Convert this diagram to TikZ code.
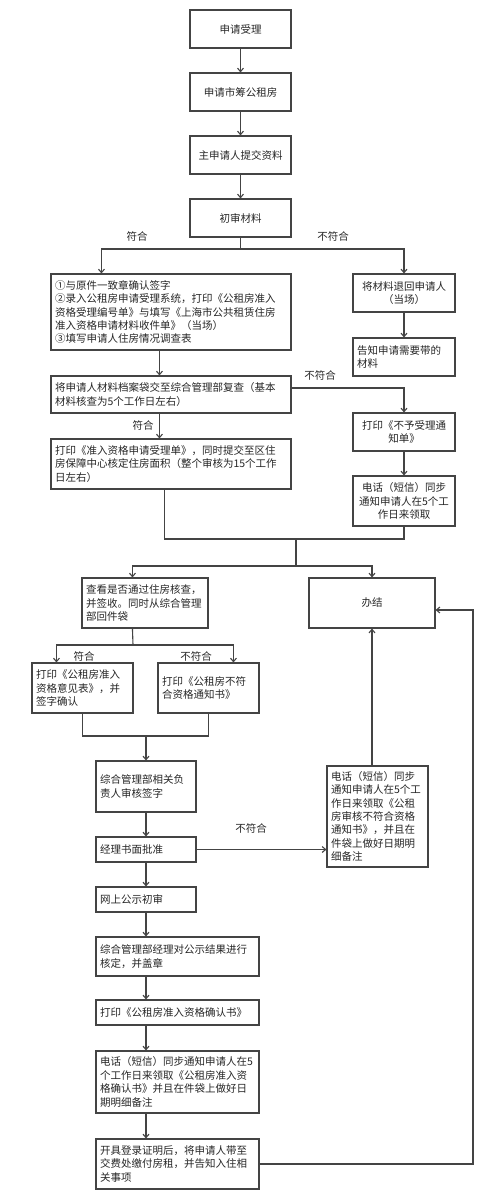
\documentclass[tikz,border=0pt]{standalone}
\usepackage{fontspec}
\setmainfont{Noto Sans CJK SC}
\usetikzlibrary{arrows.meta}
\definecolor{lncol}{HTML}{444444}
\definecolor{txcol}{HTML}{262626}
\tikzset{
  box/.style={draw=lncol, line width=1.1pt, inner xsep=4pt, inner ysep=0pt, text=txcol, font=\fontsize{10.5pt}{13.4pt}\selectfont},
  lbox/.style={box, align=left},
  cbox/.style={box, align=center},
  arr/.style={draw=lncol, line width=1.1pt, -{Straight Barb[length=3.5pt,width=6pt]}},
  plain/.style={draw=lncol, line width=1.1pt},
  lab/.style={text=txcol, inner sep=0pt, font=\fontsize{10.5pt}{13.4pt}\selectfont}
}
\begin{document}
\begin{tikzpicture}[x=1pt,y=-1pt]
\fill[white] (0,0) rectangle (500,1200);
\useasboundingbox (0,0) rectangle (500,1200);
% top column
\node[cbox, minimum width=101pt, minimum height=38pt] (n1) at (240.5,29) {申请受理};
\node[cbox, minimum width=101pt, minimum height=38pt] (n2) at (240.5,92) {申请市筹公租房};
\node[cbox, minimum width=101pt, minimum height=38pt] (n3) at (240.5,155) {主申请人提交资料};
\node[cbox, minimum width=101pt, minimum height=38pt] (n4) at (240.5,218) {初审材料};
% second level
\node[lbox, minimum width=240pt, minimum height=76pt, text width=232pt] (n5) at (171,312) {①与原件一致章确认签字\\②录入公租房申请受理系统，打印《公租房准入\\资格受理编号单》与填写《上海市公共租赁住房\\准入资格申请材料收件单》（当场）\\③填写申请人住房情况调查表};
\node[cbox, minimum width=102pt, minimum height=38pt] (n6) at (404,293) {将材料退回申请人\\（当场）};
\node[lbox, minimum width=102pt, minimum height=38pt, text width=94pt] (n7) at (404,357) {告知申请需要带的\\材料};
\node[lbox, minimum width=240pt, minimum height=37pt, text width=232pt] (n8) at (171,394.5) {将申请人材料档案袋交至综合管理部复查（基本\\材料核查为5个工作日左右）};
\node[cbox, minimum width=102pt, minimum height=38pt] (n9) at (404,432) {打印《不予受理通\\知单》};
\node[lbox, minimum width=240pt, minimum height=50pt, text width=232pt] (n10) at (171,464) {打印《准入资格申请受理单》，同时提交至区住\\房保障中心核定住房面积（整个审核为15个工作\\日左右）};
\node[cbox, minimum width=102pt, minimum height=50pt] (n11) at (404,501) {电话（短信）同步\\通知申请人在5个工\\作日来领取};
% third level
\node[lbox, minimum width=126pt, minimum height=50pt, text width=118pt] (n12) at (145,603) {查看是否通过住房核查，\\并签收。同时从综合管理\\部回件袋};
\node[cbox, minimum width=126pt, minimum height=50pt] (n13) at (372,603) {办结};
\node[lbox, minimum width=101pt, minimum height=50pt, text width=93pt] (n14) at (82.5,688) {打印《公租房准入\\资格意见表》，并\\签字确认};
\node[lbox, minimum width=101pt, minimum height=50pt, text width=93pt] (n15) at (208.5,688) {打印《公租房不符\\合资格通知书》};
\node[lbox, minimum width=100pt, minimum height=51pt, text width=92pt] (n16) at (146,786.5) {综合管理部相关负\\责人审核签字};
\node[lbox, minimum width=100pt, minimum height=25pt, text width=92pt] (n17) at (146,849.5) {经理书面批准};
\node[lbox, minimum width=101pt, minimum height=101pt, text width=93pt] (n18) at (377.5,816.5) {电话（短信）同步\\通知申请人在5个工\\作日来领取《公租\\房审核不符合资格\\通知书》，并且在\\件袋上做好日期明\\细备注};
\node[lbox, minimum width=100pt, minimum height=25pt, text width=92pt] (n19) at (146,899.5) {网上公示初审};
\node[lbox, minimum width=163pt, minimum height=39pt, text width=155pt] (n20) at (177.5,956.5) {综合管理部经理对公示结果进行\\核定，并盖章};
\node[lbox, minimum width=163pt, minimum height=25pt, text width=155pt] (n21) at (177.5,1012.5) {打印《公租房准入资格确认书》};
\node[lbox, minimum width=163pt, minimum height=62pt, text width=155pt] (n22) at (177.5,1082) {电话（短信）同步通知申请人在5\\个工作日来领取《公租房准入资\\格确认书》并且在件袋上做好日\\期明细备注};
\node[lbox, minimum width=163pt, minimum height=50pt, text width=155pt] (n23) at (177.5,1164) {开具登录证明后，将申请人带至\\交费处缴付房租，并告知入住相\\关事项};
% labels
\node[lab] (l1) at (137,236) {符合};
\node[lab] (l2) at (333,236) {不符合};
\node[lab] (l3) at (320,375) {不符合};
\node[lab] (l4) at (143,425) {符合};
\node[lab] (l5) at (84,656) {符合};
\node[lab] (l6) at (196,656) {不符合};
\node[lab] (l7) at (251,828) {不符合};
% coordinates
\coordinate (b1) at (240.5,249);
\coordinate (m1) at (296,539);
\coordinate (m2) at (296,566);
\coordinate (b2) at (133,645);
\coordinate (m3) at (146,736);
\coordinate (r1) at (473,610);
% connectors
\draw[arr] (n1) -- (n2);
\draw[arr] (n2) -- (n3);
\draw[arr] (n3) -- (n4);
\draw[plain] (n4.south) -- (b1);
\draw[arr] (b1) -| ([xshift=51pt]n5.north west);
\draw[arr] (b1) -| (n6.north);
\draw[arr] (n6) -- (n7);
\draw[arr] ([xshift=109pt]n5.south west) -- ([xshift=109pt]n8.north west);
\draw[arr] ([xshift=109pt]n8.south west) -- ([xshift=109pt]n10.north west);
\draw[arr] ([yshift=6.5pt]n8.east) -| (n9.north);
\draw[arr] (n9) -- (n11);
\draw[plain] ([xshift=114pt]n10.south west) |- (m1) -| (n11.south);
\draw[arr] (m1) -- (m2) -| ([xshift=51pt]n12.north west);
\draw[arr] (m2) -| (n13.north);
\draw[plain] ([xshift=51pt]n12.south west) -- (b2);
\draw[arr] (b2) -| ([xshift=25pt]n14.north west);
\draw[arr] (b2) -| ([xshift=76pt]n15.north west);
\draw[plain] (n14.south) |- (m3) -| (n15.south);
\draw[arr] (m3) -- (n16.north);
\draw[arr] (n16) -- (n17);
\draw[arr] (n17) -- (n19);
\draw[arr] (n19.south) -- (n19.south |- n20.north);
\draw[arr] (n20.south -| n19.south) -- (n19.south |- n21.north);
\draw[arr] (n21.south -| n19.south) -- (n19.south |- n22.north);
\draw[arr] (n22.south -| n19.south) -- (n19.south |- n23.north);
\draw[arr] (n17.east) -- (n17.east -| n18.west);
\draw[arr] (n18.north -| n13.south) -- (n13.south);
\draw[arr] (n23.east) -| (r1) -- ([yshift=-7pt]n13.east);
\end{tikzpicture}
\end{document}
